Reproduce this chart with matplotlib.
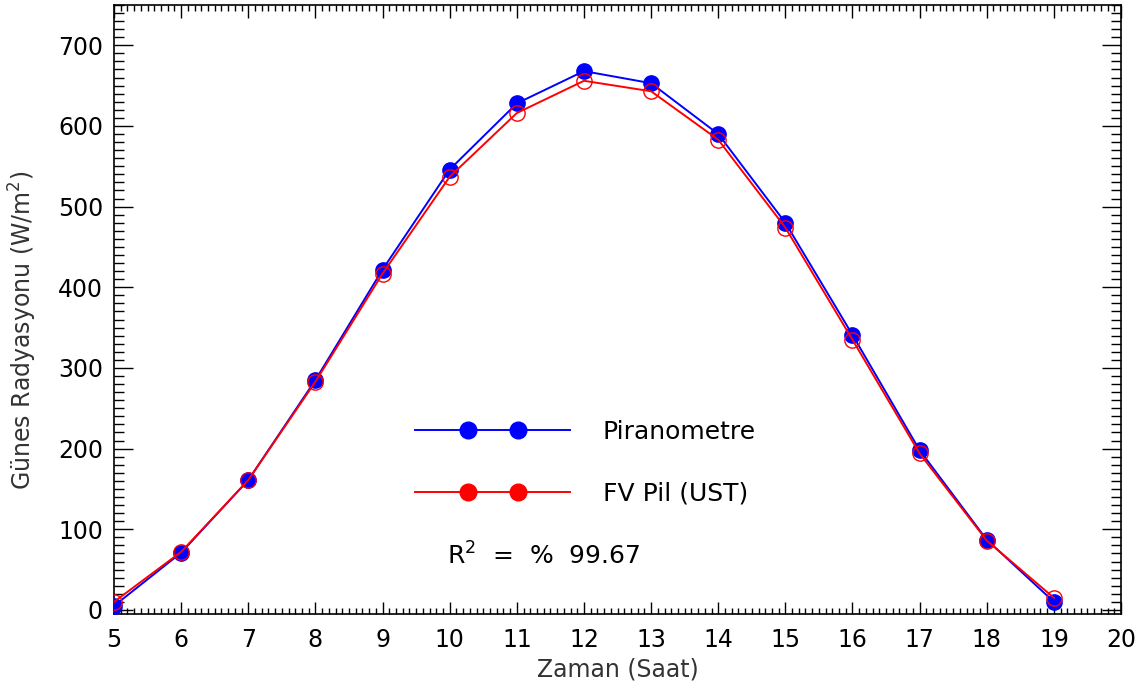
import matplotlib
matplotlib.use("Agg")
import matplotlib.pyplot as plt
from matplotlib.lines import Line2D
from matplotlib.legend_handler import HandlerLine2D
from matplotlib.ticker import MultipleLocator

# Saatlik veriler
saat = [5, 6, 7, 8, 9, 10, 11, 12, 13, 14, 15, 16, 17, 18, 19]
piranometre = [5, 71, 161, 285, 422, 546, 628, 668, 653, 590, 480, 341, 198, 87, 10]
fv_pil = [10, 72, 161, 283, 417, 537, 616, 656, 643, 583, 474, 335, 194, 86, 15]
r2_text = "R$^2$  =  %  99.67"

plt.rcParams['font.family'] = ['DejaVu Sans']
plt.rcParams['mathtext.fontset'] = 'dejavusans'

fig = plt.figure(figsize=(11.46, 7), dpi=100)
ax = fig.add_axes([0.0995, 0.1229, 0.8787, 0.8700])

# -------------------------
# Egriler
# -------------------------
ax.plot(saat, piranometre, color="blue", lw=1.4, marker="o", ms=11,
        mfc="blue", mec="blue", zorder=3)
ax.plot(saat, fv_pil, color="red", lw=1.4, marker="o", ms=11,
        mfc="none", mec="red", mew=1.0, zorder=4)

ax.set_xlim(5, 20)
ax.set_ylim(-5, 750)
ax.xaxis.set_major_locator(MultipleLocator(1))
ax.xaxis.set_minor_locator(MultipleLocator(0.1))
ax.yaxis.set_major_locator(MultipleLocator(100))
ax.yaxis.set_minor_locator(MultipleLocator(10))

ax.tick_params(axis="both", which="both", direction="in", top=True, right=True,
               labelsize=17, width=1.0, colors="black")
ax.tick_params(axis="x", which="major", length=9, pad=10)
ax.tick_params(axis="x", which="minor", length=4)
ax.tick_params(axis="y", which="major", length=14, pad=8)
ax.tick_params(axis="y", which="minor", length=7)
for s in ax.spines.values():
    s.set_linewidth(1.2)

ax.set_xlabel("Zaman (Saat)", fontsize=17, color="#333333", labelpad=4)
ax.set_ylabel("Günes Radyasyonu (W/m$^2$)", fontsize=17, color="#333333", labelpad=12)
ax.yaxis.set_label_coords(-0.075, 0.466)

# -------------------------
# Lejant ve R2
# -------------------------
ln1 = Line2D([], [], color="blue", lw=1.4)
mk1 = Line2D([], [], ls="none", marker="o", ms=12, mfc="blue", mec="blue")
ln2 = Line2D([], [], color="red", lw=1.4)
mk2 = Line2D([], [], ls="none", marker="o", ms=12, mfc="red", mec="red")
ax.legend([(ln1, mk1), (ln2, mk2)], ["Piranometre", "FV Pil (UST)"],
          loc="center left", bbox_to_anchor=(0.299, 0.248), frameon=False,
          fontsize=18, numpoints=2, handlelength=6.2, handletextpad=1.3,
          labelspacing=1.5, borderpad=0, borderaxespad=0,
          handler_map={ln1: HandlerLine2D(marker_pad=0),
                       ln2: HandlerLine2D(marker_pad=0),
                       mk1: HandlerLine2D(marker_pad=2.1),
                       mk2: HandlerLine2D(marker_pad=2.1)})

ax.text(0.331, 0.095, r2_text, transform=ax.transAxes, fontsize=18,
        va="center", ha="left")

fig.savefig("out.png", dpi=100)
